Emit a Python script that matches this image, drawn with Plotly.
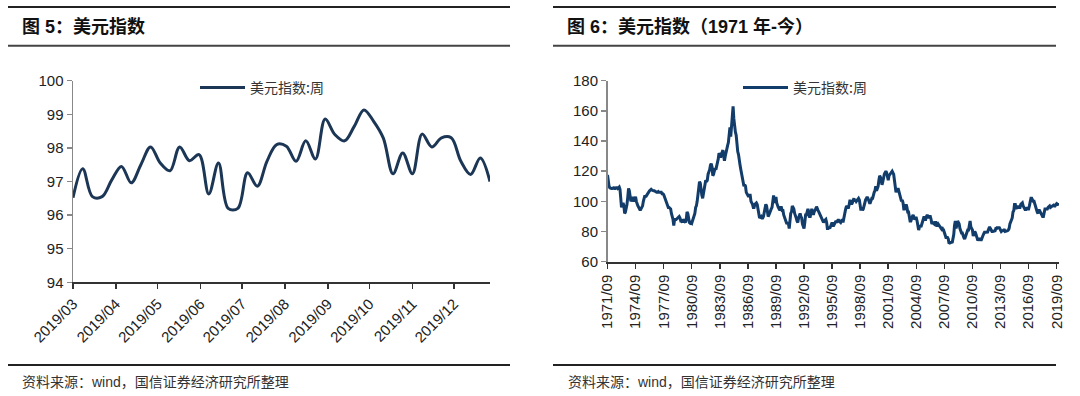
import plotly.graph_objects as go
import pandas as pd

# ---------------- Data ----------------
# Left chart: weekly US dollar index, 2019-03-01 .. 2019-12-27 (Fridays)
week_start = "2019-03-01"
dxy_2019_weekly = [
    96.52, 97.38, 96.55, 96.55, 97.05, 97.45, 96.96, 97.50, 98.03, 97.55,
    97.32, 98.03, 97.62, 97.80, 96.63, 97.55, 96.20, 96.20, 97.26, 96.86,
    97.60, 98.10, 98.05, 97.60, 98.21, 97.67, 98.86, 98.40, 98.21, 98.64,
    99.13, 98.79, 98.29, 97.23, 97.85, 97.23, 98.41, 98.03, 98.30, 98.30,
    97.60, 97.21, 97.70, 97.00,
]

# Right chart: US dollar index since 1971/09 (monthly reading of the weekly line)
hist_start = "1971-09-01"
dxy_1970s = [
    117.5, 113, 110, 109,
    108.6, 108.6, 108.6, 108.8, 109, 108.5, 108.5, 109, 109, 108.5, 109, 109.5,
    108, 100, 96, 98, 99, 97, 92, 93, 95, 98, 103, 108.6,
    107, 103, 100, 101, 103, 101, 100, 102, 103, 100, 98, 97,
    96, 94.5, 94, 95, 96, 97, 100, 103, 104, 103, 104, 104.5,
    105, 106, 107, 107.5, 108, 107.5, 107, 107, 107, 106.5, 106, 106,
    106, 106.5, 106, 106, 106, 106, 105, 105, 104.5, 103, 102, 100,
    99, 97, 96, 96, 95, 95, 92, 90, 88, 84, 88, 88,
    88, 88.5, 89, 90, 90, 89, 87, 87, 86, 88, 87, 86.5,
]
dxy_1980s = [
    86, 88, 93, 92, 87, 86, 85.5, 86, 85.5, 87, 90, 91,
    92, 96, 97, 100, 104, 107, 113, 112, 105, 104, 102, 105,
    108, 111, 114, 113, 114, 118, 119, 121, 124, 125, 123, 117,
    118, 120, 122, 121, 123, 126, 128, 132, 131, 129, 131, 133,
    134, 130, 127, 130, 133, 134, 137, 139, 145, 149, 143, 148,
    153, 163, 155, 147, 146, 144, 136, 133, 131, 126, 124, 121,
    118, 116, 112, 110, 111, 110, 106, 105, 104, 103, 104, 104,
    100, 99, 98, 96, 96, 98, 99, 99, 98, 96, 92, 89,
    90, 90, 89, 89, 90, 93, 97, 98, 97, 94, 90, 91,
    93, 94, 95, 96, 101, 104, 99, 101, 103, 99, 97, 96,
]
dxy_1990s = [
    95, 94, 96, 96, 94, 94, 91, 89, 88, 86, 85, 86,
    85, 82, 89, 92, 93, 97, 96, 95, 92, 91, 89, 87,
    86, 89, 91, 92, 90, 89, 85, 83, 82, 86, 91, 91,
    93, 95, 93, 90, 90, 92, 95, 93, 91, 93, 95, 95,
    96.5, 94, 94, 93, 92, 91, 89, 89, 88, 86, 87, 88,
    88, 86, 82, 82, 83, 82, 83, 85, 86, 84, 84, 85,
    86, 87, 86, 87, 88, 87, 86, 86, 87, 88, 86, 88,
    91, 94, 96, 97, 96, 96, 98, 101, 99, 98, 99, 101,
    102, 100, 101, 100, 101, 102, 102, 101, 96, 94, 96, 94,
    95, 98, 100, 101, 102, 103, 102, 100, 99, 99, 101, 102,
]
dxy_2000s = [
    102, 105, 106, 107, 110, 107, 108, 110, 114, 117, 116, 113,
    111, 113, 117, 118, 119, 120, 119, 115, 114, 117, 118, 118,
    119.5, 120, 119, 118, 114, 110, 106, 108, 108, 108, 106, 104,
    101, 100, 101, 99, 95, 95, 96, 98, 96, 93, 93, 89,
    87, 87, 89, 90, 91, 89, 88, 89, 89, 87, 84, 81,
    83, 84, 83, 85, 87, 89, 90, 88, 88, 90, 91, 90,
    89, 90, 90, 88, 85, 86, 85, 85, 86, 86, 84, 84,
    85, 84, 83, 82, 82, 83, 81, 81, 79, 78, 76, 76,
    76, 75, 72, 72.5, 73, 73, 72.5, 75, 78, 84, 87, 82,
    84, 87, 86, 85, 82, 80, 79, 79, 77, 76, 75, 77,
]
dxy_2010s = [
    78, 80, 81, 81, 86, 87, 83, 82, 81, 77, 79, 80,
    79, 77, 76, 74, 75, 75, 75, 74, 76, 77, 78, 79,
    80, 79, 80, 79, 81, 82, 83, 82, 80, 80, 80, 80,
    80, 80.5, 82, 82, 83, 82, 83, 82, 81, 80, 80.5, 80.5,
    81, 81, 80, 80, 80, 80.5, 81, 82, 85, 86, 88, 89,
    93, 94, 98, 98, 95, 96, 97, 96, 96, 96, 98, 99,
    99, 97, 96, 94, 94, 95, 96, 95, 95, 97, 100, 102,
    102, 100, 100, 100, 98, 97, 94, 93, 92, 94, 94, 93,
    91, 90, 90, 90, 93, 95, 95, 95, 95, 96, 97, 97,
    96, 96.5, 97, 97, 97.5, 97, 97, 98, 98.5, 98, 98, 97.5,
]

series_name = "美元指数:周"
title_left = "图 5：美元指数"
title_right = "图 6：美元指数（1971 年-今）"
source_text = "资料来源：wind，国信证券经济研究所整理"

# ---------------- Build ----------------
W, H = 1080, 396
def px(x):
    return x / W
def py(y):
    return 1 - y / H

weeks = pd.date_range(week_start, periods=len(dxy_2019_weekly), freq="7D")
hist_vals = dxy_1970s + dxy_1980s + dxy_1990s + dxy_2000s + dxy_2010s
months = pd.date_range(hist_start, periods=len(hist_vals), freq="MS")

FONT = "Liberation Sans, Arial, Noto Sans CJK SC, sans-serif"

fig = go.Figure()
fig.add_trace(go.Scatter(
    x=weeks, y=dxy_2019_weekly, mode="lines", name=series_name,
    line=dict(color="#1c3656", width=3, shape="spline", smoothing=1.0),
    xaxis="x", yaxis="y", legend="legend",
))
fig.add_trace(go.Scatter(
    x=months, y=hist_vals, mode="lines", name=series_name,
    line=dict(color="#123d6b", width=3),
    xaxis="x2", yaxis="y2", legend="legend2",
))

def ax(**kw):
    base = dict(showgrid=False, zeroline=False, showline=True, automargin=False,
                ticks="outside", ticklen=5, tickwidth=1.5,
                tickfont=dict(family=FONT, size=15, color="#222"))
    base.update(kw)
    return base

xfont = dict(family=FONT, size=15, color="#222")
legfont = dict(family="Noto Sans CJK SC", size=14, color="#333")

fig.update_layout(
    width=W, height=H, margin=dict(l=0, r=0, t=0, b=0, pad=0, autoexpand=False),
    paper_bgcolor="white", plot_bgcolor="white",
    font=dict(family=FONT, color="#222"),
    xaxis=ax(domain=[px(73), px(490)], anchor="y", type="date",
             range=["2019-03-01", "2019-12-27"],
             tick0="2019-03-01", dtick="M1", tickformat="%Y/%m",
             tickangle=-45, linecolor="#333", linewidth=2, tickcolor="#333",
             tickfont=xfont),
    yaxis=ax(domain=[py(282.3), py(80.7)], anchor="x", range=[94, 100],
             dtick=1, linecolor="#888", linewidth=1.5, tickcolor="#888"),
    xaxis2=ax(domain=[px(607.5), px(1059)], anchor="y2", type="date",
              range=["1971-09-01", "2019-12-01"],
              tick0="1971-09-01", dtick="M36", tickformat="%Y/%m",
              tickangle=-90, linecolor="#333", linewidth=2, tickcolor="#333",
              tickfont=xfont),
    yaxis2=ax(domain=[py(261.7), py(80.7)], anchor="x2", range=[60, 180],
              dtick=20, linecolor="#888", linewidth=1.5, tickcolor="#888"),
    legend=dict(x=px(195), y=py(88), xanchor="left", yanchor="middle", itemwidth=45,
                bgcolor="rgba(0,0,0,0)", font=legfont),
    legend2=dict(x=px(738), y=py(88), xanchor="left", yanchor="middle", itemwidth=45,
                 bgcolor="rgba(0,0,0,0)", font=legfont),
    showlegend=True,
)

shapes = []
for (x0, x1) in [(8, 510), (553, 1056)]:
    for (yy, col, w) in [(7, "#222", 2.2), (45.7, "#444", 2), (365, "#222", 2)]:
        shapes.append(dict(type="line", xref="paper", yref="paper",
                           x0=px(x0), x1=px(x1), y0=py(yy), y1=py(yy),
                           line=dict(color=col, width=w)))
fig.update_layout(shapes=shapes)

annotations = []
for x0, t in [(20, title_left), (565, title_right)]:
    annotations.append(dict(text=f"<b>{t}</b>", x=px(x0), y=py(27), xref="paper", yref="paper",
                            xanchor="left", yanchor="middle", showarrow=False,
                            font=dict(family=FONT, size=18, color="#111")))
for x0 in [20, 566]:
    annotations.append(dict(text=source_text, x=px(x0), y=py(382), xref="paper", yref="paper",
                            xanchor="left", yanchor="middle", showarrow=False,
                            font=dict(family=FONT, size=14, color="#333")))
fig.update_layout(annotations=annotations)

fig.write_html("out.html",
               config={"displayModeBar": False, "staticPlot": True},
               post_script="document.body.style.margin='0';document.body.style.overflow='hidden';")
